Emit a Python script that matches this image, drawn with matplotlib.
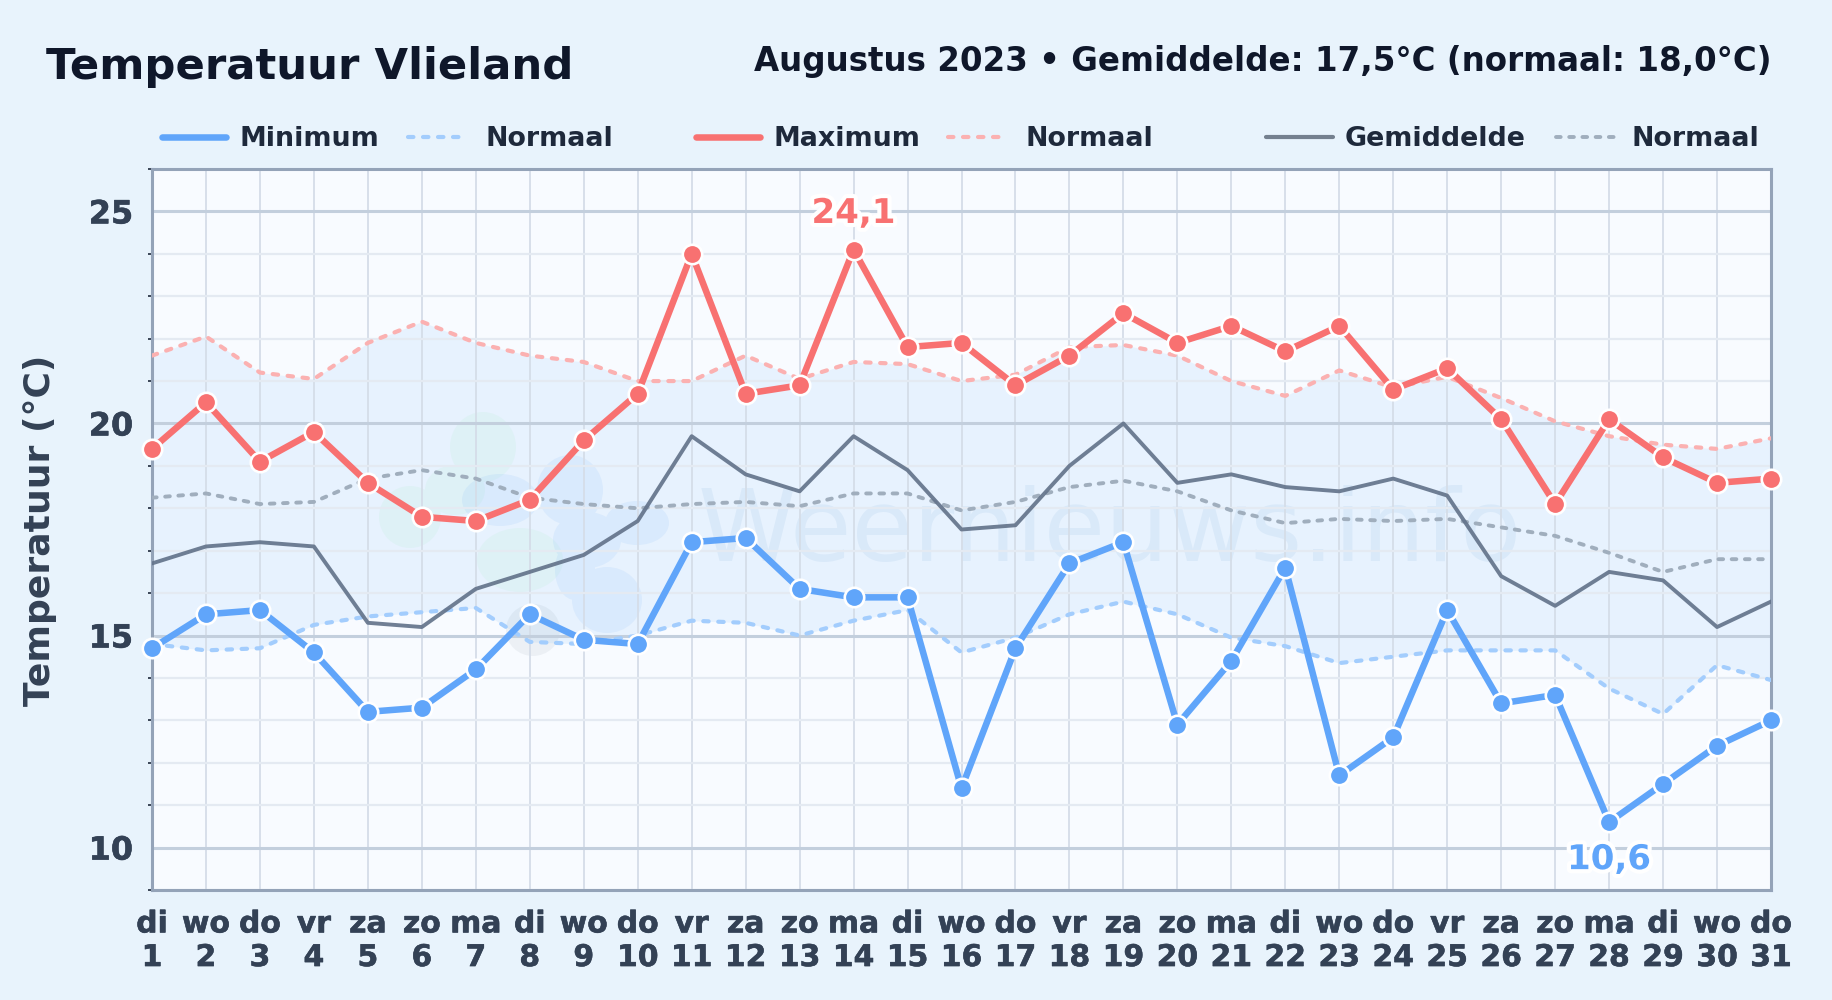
# Temperatuur Vlieland, augustus 2023

import matplotlib
matplotlib.use("Agg")
import matplotlib.pyplot as plt
import matplotlib.patheffects as pe
from matplotlib.lines import Line2D
from matplotlib.patches import PathPatch
from matplotlib.path import Path
from matplotlib.ticker import MultipleLocator
from matplotlib.transforms import Affine2D, IdentityTransform
import numpy as np

#====Data
weekdagen = ["di", "wo", "do", "vr", "za", "zo", "ma"] * 5
dagen = list(range(1, 32))
dag_namen = weekdagen[:31]

minimum = [14.7, 15.5, 15.6, 14.6, 13.2, 13.3, 14.2, 15.5, 14.9, 14.8, 17.2, 17.3, 16.1, 15.9, 15.9, 11.4,
           14.7, 16.7, 17.2, 12.9, 14.4, 16.6, 11.7, 12.6, 15.6, 13.4, 13.6, 10.6, 11.5, 12.4, 13.0]
maximum = [19.4, 20.5, 19.1, 19.8, 18.6, 17.8, 17.7, 18.2, 19.6, 20.7, 24.0, 20.7, 20.9, 24.1, 21.8, 21.9,
           20.9, 21.6, 22.6, 21.9, 22.3, 21.7, 22.3, 20.8, 21.3, 20.1, 18.1, 20.1, 19.2, 18.6, 18.7]
gemiddelde = [16.7, 17.1, 17.2, 17.1, 15.3, 15.2, 16.1, 16.5, 16.9, 17.7, 19.7, 18.8, 18.4, 19.7, 18.9, 17.5,
              17.6, 19.0, 20.0, 18.6, 18.8, 18.5, 18.4, 18.7, 18.3, 16.4, 15.7, 16.5, 16.3, 15.2, 15.8]
normaal_min = [14.8, 14.65, 14.7, 15.25, 15.45, 15.55, 15.65, 14.85, 14.8, 15.0, 15.35, 15.3, 15.0, 15.35, 15.6, 14.6,
               14.95, 15.5, 15.8, 15.5, 14.95, 14.75, 14.35, 14.5, 14.65, 14.65, 14.65, 13.75, 13.15, 14.3, 13.95]
normaal_max = [21.6, 22.05, 21.2, 21.05, 21.9, 22.4, 21.9, 21.6, 21.45, 21.0, 21.0, 21.6, 21.05, 21.45, 21.4, 21.0,
               21.15, 21.8, 21.85, 21.6, 21.0, 20.65, 21.25, 20.85, 21.1, 20.6, 20.05, 19.7, 19.5, 19.4, 19.65]
normaal_gem = [18.25, 18.35, 18.1, 18.15, 18.7, 18.9, 18.7, 18.25, 18.1, 18.0, 18.1, 18.15, 18.05, 18.35, 18.35, 17.95,
               18.15, 18.5, 18.65, 18.4, 17.95, 17.65, 17.75, 17.7, 17.75, 17.55, 17.35, 16.95, 16.5, 16.8, 16.8]

BLAUW = "#60a5fa"
ROOD = "#f87171"
GRIJS = "#64748b"
W, H = 1832, 1000

#Logo blob out of ellipses, given in pixels from the top left (x, y, width, height)
def blob(ax, ellipsen, kleur, alpha):
    delen = [Path.unit_circle().transformed(Affine2D().scale(w / 2, h / 2).translate(x, H - y))
             for x, y, w, h in ellipsen]
    ax.add_patch(PathPatch(Path.make_compound_path(*delen), transform=IdentityTransform(), facecolor=kleur,
                           alpha=alpha, lw=0, zorder=1.5))

#====Figure
fig = plt.figure(figsize=(W / 100, H / 100), dpi=100, facecolor="#e8f3fc")
ax = fig.add_axes([152 / W, 1 - 890 / H, (1771 - 152) / W, (890 - 169) / H])
ax.set_facecolor("#f8fbff")
ax.set_xlim(1, 31)
ax.set_ylim(9, 26)

#Band between the normals
ax.fill_between(dagen, normaal_min, normaal_max, color="#b4d8fd", alpha=0.24, lw=0, zorder=1)

#Watermark
ax.text(1110, H - 533, "Weernieuws.info", transform=IdentityTransform(), ha="center", va="center",
        fontsize=72, color="#3b82c4", alpha=0.08, zorder=1.5)
blob(ax, [(483, 447, 66, 70), (410, 517, 62, 62), (520, 560, 86, 64), (455, 490, 60, 50)], "#86efac", 0.09)
blob(ax, [(570, 490, 66, 70), (500, 500, 76, 52), (637, 523, 64, 44), (587, 540, 68, 56), (607, 600, 70, 66),
          (575, 570, 40, 60)], BLAUW, 0.10)
blob(ax, [(533, 630, 54, 52)], GRIJS, 0.08)

#Grid
ax.yaxis.set_major_locator(MultipleLocator(5))
ax.yaxis.set_minor_locator(MultipleLocator(1))
ax.set_xticks(dagen)
ax.set_xticklabels([d + "\n" + str(n) for d, n in zip(dag_namen, dagen)])
ax.grid(True, which="major", axis="y", color="#c3cfdd", lw=2.2, zorder=2)
ax.grid(True, which="minor", axis="y", color="#e4eaf2", lw=1.6, zorder=2)
ax.grid(True, which="major", axis="x", color="#d5dde8", lw=1.3, zorder=2)
ax.set_axisbelow(False)
ax.tick_params(axis="x", length=0, pad=14, labelsize=21.5, labelcolor="#334155")
ax.tick_params(axis="y", which="major", length=0, pad=13.5, labelsize=23, labelcolor="#334155")
ax.tick_params(axis="y", which="minor", length=3, width=1.2, color="#1e293b")
dik = [pe.withStroke(linewidth=0.4, foreground="#334155")]
for lab in ax.get_xticklabels() + ax.get_yticklabels():
    lab.set_fontweight("bold")
    lab.set_path_effects(dik)
for spine in ax.spines.values():
    spine.set_color("#94a3b8")
    spine.set_linewidth(2.2)
    spine.set_zorder(3)

#Normals
ax.plot(dagen, normaal_min, color="#a3cdfd", lw=3.0, ls=(0, (1.3, 2.3)), dash_capstyle="round", zorder=4)
ax.plot(dagen, normaal_max, color="#fbb1b1", lw=3.0, ls=(0, (1.3, 2.3)), dash_capstyle="round", zorder=4)
ax.plot(dagen, normaal_gem, color="#a0aebd", lw=2.8, ls=(0, (1.2, 2.2)), dash_capstyle="round", zorder=4)

#Series
ax.plot(dagen, gemiddelde, color=GRIJS, lw=2.8, alpha=0.92, zorder=5)
merk = dict(marker="o", ms=14, mew=1.9, mec="white", clip_on=False)
ax.plot(dagen, minimum, color=BLAUW, lw=4.7, zorder=6, **merk)
ax.plot(dagen, maximum, color=ROOD, lw=4.7, zorder=6, **merk)

#Extremes
rand = [pe.withStroke(linewidth=6, foreground="white")]
i_max = int(np.argmax(maximum))
i_min = int(np.argmin(minimum))
ax.annotate("24,1", (dagen[i_max], maximum[i_max]), xytext=(0, 26), textcoords="offset points", ha="center",
            va="center", fontsize=24.5, fontweight="bold", color=ROOD, path_effects=rand, zorder=7)
ax.annotate("10,6", (dagen[i_min], minimum[i_min]), xytext=(0, -27), textcoords="offset points", ha="center",
            va="center", fontsize=24.5, fontweight="bold", color=BLAUW, path_effects=rand, zorder=7)

ax.set_ylabel("Temperatuur (°C)", fontsize=26, fontweight="bold", color="#334155")
ax.yaxis.set_label_coords(57 / W, 1 - 530 / H, transform=fig.transFigure)

#Titles
fig.text(46 / W, 1 - 66.5 / H, "Temperatuur Vlieland", fontsize=31.2, fontweight="bold", color="#0f172a",
         ha="left", va="center")
fig.text(1772 / W, 1 - 61.5 / H, "Augustus 2023 • Gemiddelde: 17,5°C (normaal: 18,0°C)", fontsize=23.45,
         fontweight="bold", color="#0f172a", ha="right", va="center")

#Legend, placed by hand like the original
punt = (0, (1.3, 2.3))
legenda = [("Minimum", BLAUW, 4.7, "-", 162, 226, 240), ("Normaal", "#a3cdfd", 3.0, punt, 408, 463, 486),
           ("Maximum", ROOD, 4.7, "-", 696, 760, 773), ("Normaal", "#fbb1b1", 3.0, punt, 948, 1005, 1026),
           ("Gemiddelde", "#74808f", 3.0, "-", 1266, 1333, 1345), ("Normaal", "#a0aebd", 2.8, (0, (1.2, 2.2)), 1556, 1618, 1632)]
for naam, kleur, dikte, stijl, x0, x1, xt in legenda:
    fig.add_artist(Line2D([x0 / W, x1 / W], [1 - 137 / H, 1 - 137 / H], color=kleur, lw=dikte, ls=stijl,
                          transform=fig.transFigure, solid_capstyle="round", dash_capstyle="round"))
    fig.text(xt / W, 1 - 139 / H, naam, fontsize=19.4, fontweight="bold", color="#1e293b", ha="left", va="center")

plt.savefig("out.png", dpi=100, facecolor=fig.get_facecolor())
plt.close(fig)
